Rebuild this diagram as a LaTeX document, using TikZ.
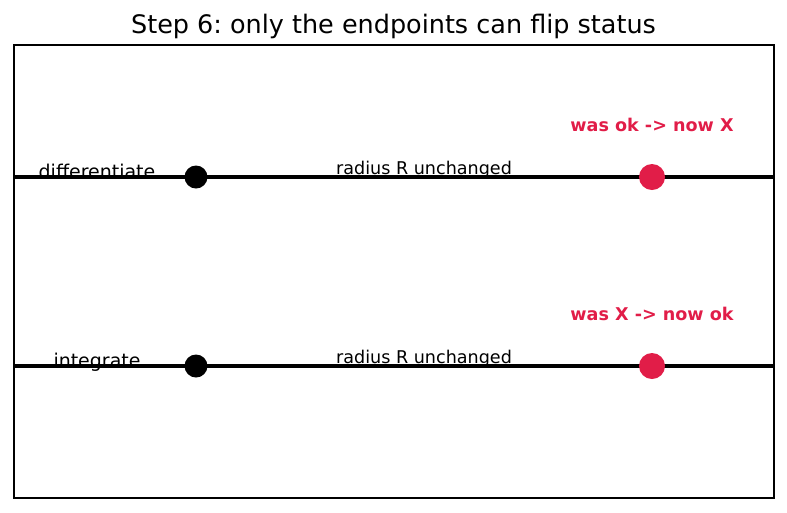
\documentclass[tikz,border=0pt]{standalone}
\usepackage{fontspec}
\setmainfont{DejaVu Sans}
\usepackage{tikz}
\usetikzlibrary{positioning}
\frenchspacing
\definecolor{flipc}{HTML}{E11D48}
\tikzset{
  frame/.style={draw=black,line width=1.1pt},
  rail/.style={line width=2.5pt,black},
  keepdot/.style={circle,fill=black,inner sep=0pt,minimum size=0.46cm},
  flipdot/.style={circle,fill=flipc,inner sep=0pt,minimum size=0.52cm},
  oplabel/.style={anchor=base,inner sep=0pt,font=\fontsize{10.8}{13}\selectfont},
  notelabel/.style={anchor=base,inner sep=0pt,font=\fontsize{10}{12}\selectfont},
  fliplabel/.style={anchor=base,inner sep=0pt,text=flipc,font=\fontsize{10}{12}\selectfont\bfseries}
}

\begin{document}
\begin{tikzpicture}[x=0.02cm,y=-0.02cm]
\useasboundingbox (0,0) rectangle (787,512);
\node[anchor=base,inner sep=0pt,font=\fontsize{14.5}{17}\selectfont] (title) at (393.5,33) {Step 6: only the endpoints can flip status};
\draw[frame] (14,45) rectangle (774,498);
\foreach \y/\op/\flip [count=\i] in {177/differentiate/{was ok -> now X},366/integrate/{was X -> now ok}}{
  \coordinate (l\i) at (14,\y);
  \coordinate (r\i) at (774,\y);
  \node[oplabel] (op\i) at (97,\y+1.5) {\op};
  \node[notelabel] (note\i) at (424,\y-3) {radius R unchanged};
  \draw[rail] (l\i) -- (r\i);
  \node[keepdot] (a\i) at (196,\y) {};
  \node[flipdot] (b\i) at (652,\y) {};
  \node[fliplabel] (flip\i) at (652,\y-46) {\flip};
}
\end{tikzpicture}
\end{document}
